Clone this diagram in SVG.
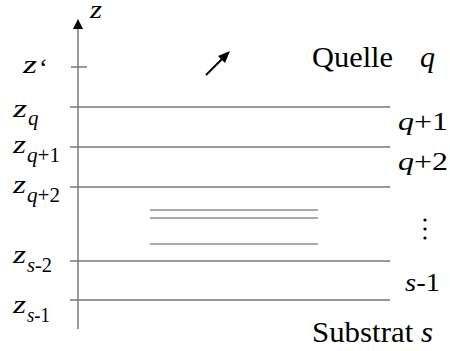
<svg xmlns="http://www.w3.org/2000/svg" width="450" height="351" viewBox="0 0 450 351">
<style>
.ln{stroke:#777;stroke-width:1.5;fill:none}
.sl{stroke:#555;stroke-width:1.2;fill:none}
text{font-family:"Liberation Serif","DejaVu Serif",serif}
.it{font-style:italic}
.z{font-size:26px;font-style:italic}
.sb{font-size:21px}
</style>
<g font-size="30" fill="#000">
<g id="axis">
<line class="ln" x1="78" y1="28" x2="78" y2="329"/>
<path d="M73,29 L78,19 L83,29 z" fill="#000"/>
<line class="ln" x1="71" y1="67" x2="87" y2="67"/>
<text class="z" x="90" y="18" textLength="12" lengthAdjust="spacingAndGlyphs">z</text>
<text class="z" x="23" y="73" textLength="14" lengthAdjust="spacingAndGlyphs">z</text>
<text x="39" y="76" font-size="26">‘</text>
</g>
<g id="connectors">
<line class="ln" x1="70" y1="107" x2="390" y2="107"/>
<line class="ln" x1="70" y1="147" x2="390" y2="147"/>
<line class="ln" x1="70" y1="187" x2="390" y2="187"/>
<line class="ln" x1="70" y1="261" x2="390" y2="261"/>
<line class="ln" x1="70" y1="300" x2="390" y2="300"/>
<line class="sl" x1="150" y1="210" x2="318" y2="210"/>
<line class="sl" x1="150" y1="218" x2="318" y2="218"/>
<line class="sl" x1="150" y1="244" x2="318" y2="244"/>
<line stroke="#000" stroke-width="2" x1="206" y1="75" x2="222" y2="59"/>
<path d="M230,51 L218,56 L225,63 z" fill="#000"/>
</g>
<g id="left-labels">
<text class="z" x="13" y="117" textLength="14" lengthAdjust="spacingAndGlyphs">z</text>
<text class="sb it" x="28" y="125">q</text>
<text class="z" x="13" y="153" textLength="13" lengthAdjust="spacingAndGlyphs">z</text>
<text class="sb" x="27" y="162" textLength="33" lengthAdjust="spacingAndGlyphs"><tspan class="it">q</tspan>+1</text>
<text class="z" x="13" y="193" textLength="13" lengthAdjust="spacingAndGlyphs">z</text>
<text class="sb" x="27" y="202" textLength="33" lengthAdjust="spacingAndGlyphs"><tspan class="it">q</tspan>+2</text>
<text class="z" x="13" y="263" textLength="13" lengthAdjust="spacingAndGlyphs">z</text>
<text class="sb" x="27" y="272" textLength="25" lengthAdjust="spacingAndGlyphs"><tspan class="it">s</tspan>-2</text>
<text class="z" x="13" y="313" textLength="13" lengthAdjust="spacingAndGlyphs">z</text>
<text class="sb" x="27" y="322" textLength="23" lengthAdjust="spacingAndGlyphs"><tspan class="it">s</tspan>-1</text>
</g>
<g id="right-labels">
<text x="312" y="67" textLength="81" lengthAdjust="spacingAndGlyphs">Quelle</text>
<text class="it" x="420" y="67">q</text>
<text x="398" y="130" font-size="26" textLength="50" lengthAdjust="spacingAndGlyphs"><tspan class="it">q</tspan>+1</text>
<text x="398" y="170" font-size="26" textLength="50" lengthAdjust="spacingAndGlyphs"><tspan class="it">q</tspan>+2</text>
<circle cx="425" cy="220" r="1.6"/>
<circle cx="425" cy="229" r="1.6"/>
<circle cx="425" cy="238" r="1.6"/>
<text x="405" y="291" font-size="26" textLength="35" lengthAdjust="spacingAndGlyphs"><tspan class="it">s</tspan>-1</text>
<text x="312" y="342" textLength="121" lengthAdjust="spacingAndGlyphs">Substrat <tspan class="it">s</tspan></text>
</g>
</g>
</svg>
